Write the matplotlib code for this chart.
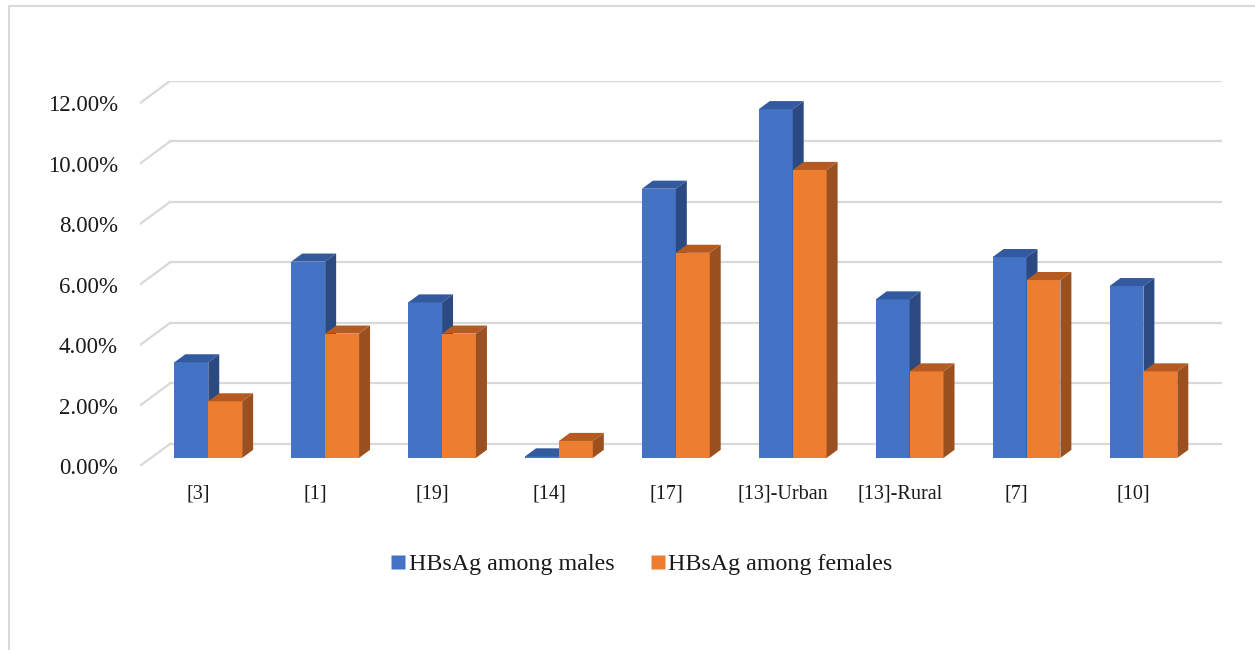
import matplotlib.pyplot as plt
from matplotlib.patches import Polygon, Rectangle
from matplotlib.lines import Line2D

plt.rcParams["font.family"] = ["Liberation Serif", "DejaVu Serif"]

categories = ["[3]", "[1]", "[19]", "[14]", "[17]", "[13]-Urban", "[13]-Rural", "[7]", "[10]"]
males = [3.16, 6.49, 5.14, 0.05, 8.90, 11.53, 5.24, 6.64, 5.68]
females = [1.87, 4.11, 4.11, 0.56, 6.78, 9.52, 2.86, 5.88, 2.86]
y_ticks = [0, 2, 4, 6, 8, 10, 12]
series_names = ["HBsAg among males", "HBsAg among females"]

# face colours: front, top, side
blue = ("#4472C4", "#335A9E", "#2C4A82")
orange = ("#ED7D31", "#B55B22", "#9A501F")
grid_color = "#D9D9D9"
text_color = "#1A1A1A"

# oblique depth of the floor/back wall, in data units
depth_x, depth_y = 0.2564, 0.729
bar_d0, bar_d1 = 0.367, 0.733
bar_w = 0.29

fig = plt.figure(figsize=(12.55, 6.5), dpi=100)
fig.patches.append(Rectangle((9 / 1255, -0.01), 1.1, 1 - 6 / 650 + 0.01, transform=fig.transFigure,
                             fill=False, edgecolor=grid_color, linewidth=1.5))

ax = fig.add_axes([140 / 1255, (650 - 466) / 650, (1222 - 140) / 1255, (466 - 81) / 650])
ax.set_xlim(-0.5, 8.5 + depth_x)
ax.set_ylim(0, 12 + depth_y)
for spine in ax.spines.values():
    spine.set_visible(False)


def proj(u, v, d):
    return (u + d * depth_x, v + d * depth_y)


# back wall gridlines and the diagonals on the left wall edge
for t in y_ticks:
    ax.plot([-0.5, -0.5 + depth_x], [t, t + depth_y], color=grid_color, lw=1.6, zorder=1)
    ax.plot([-0.5 + depth_x, 8.5 + depth_x], [t + depth_y, t + depth_y], color=grid_color, lw=1.6, zorder=1)


def draw_bar(u0, value, colors):
    front, top, side = colors
    u1 = u0 + bar_w
    ax.add_patch(Polygon([proj(u0, 0, bar_d0), proj(u1, 0, bar_d0), proj(u1, value, bar_d0), proj(u0, value, bar_d0)],
                         closed=True, facecolor=front, edgecolor="none", zorder=3))
    ax.add_patch(Polygon([proj(u0, value, bar_d0), proj(u1, value, bar_d0), proj(u1, value, bar_d1), proj(u0, value, bar_d1)],
                         closed=True, facecolor=top, edgecolor="none", zorder=3))
    ax.add_patch(Polygon([proj(u1, 0, bar_d0), proj(u1, 0, bar_d1), proj(u1, value, bar_d1), proj(u1, value, bar_d0)],
                         closed=True, facecolor=side, edgecolor="none", zorder=3))


for i, (m, f) in enumerate(zip(males, females)):
    start = i - bar_w - 0.01
    draw_bar(start, m, blue)
    draw_bar(start + bar_w, f, orange)

ax.set_xticks(range(len(categories)))
ax.set_xticklabels(categories, fontsize=14.5, color=text_color)
ax.set_yticks(y_ticks)
ax.set_yticklabels([f"{t:.2f}%" for t in y_ticks], fontsize=16.5, color=text_color)
ax.tick_params(axis="x", length=0, pad=13)
ax.tick_params(axis="y", length=0, pad=16)

handles = [Line2D([], [], marker="s", linestyle="none", markersize=10, markerfacecolor=c[0], markeredgecolor="none")
           for c in (blue, orange)]
fig.legend(handles, series_names, loc="center", bbox_to_anchor=(641 / 1255, 1 - 564 / 650), ncol=2,
           frameon=False, fontsize=17.3, handletextpad=0.1, columnspacing=1.45, handlelength=0.7,
           labelcolor=text_color)

fig.savefig("out.png", dpi=100)
